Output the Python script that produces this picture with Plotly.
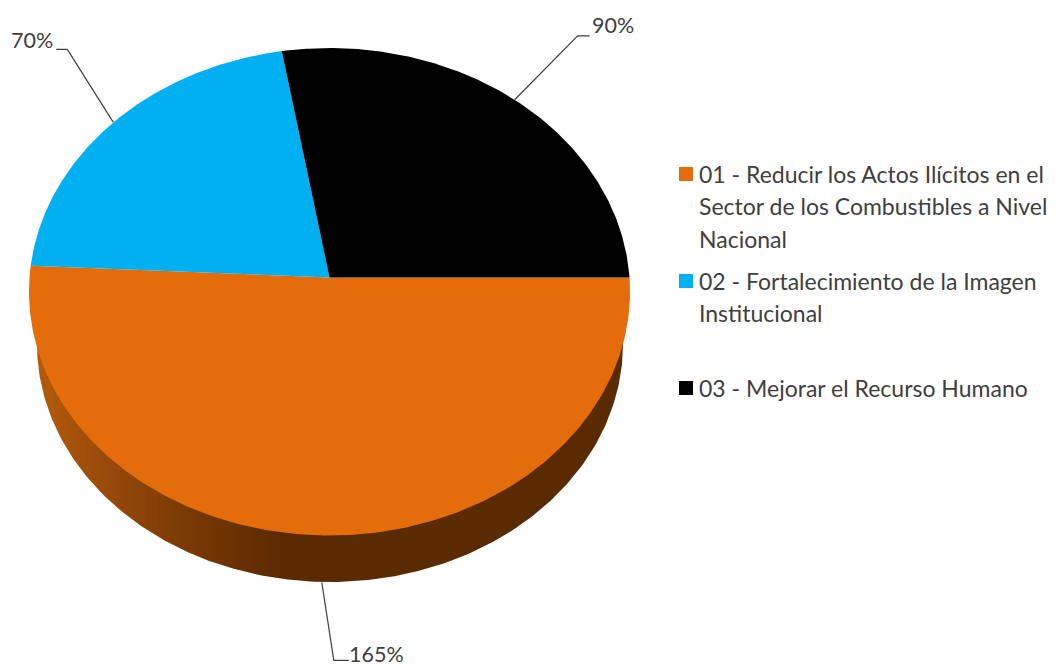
import numpy as np
import plotly.graph_objects as go

# --- data ---
categories = ["01 - Reducir los Actos Ilícitos en el<br>Sector de los Combustibles a Nivel<br>Nacional",
              "02 - Fortalecimiento de la Imagen<br>Institucional",
              "03 - Mejorar el Recurso Humano"]
values = [165, 70, 90]
percent_labels = ["165%", "70%", "90%"]

# --- style ---
colors = ["#E46C0A", "#00B0F0", "#000000"]
side_scale = [[0, "#B55C0B"], [0.3, "#96490A"], [0.6, "#7A3A05"], [1, "#5A2A00"]]
text_color = "#404040"
FONT = "Lato"
FS_LEG = 23
FS_LAB = 21.5

# --- layout geometry (pixels of the 1056x665 page) ---
W, H = 1056, 665
PAGE_MARGIN = 8                # default body margin of the written page
CX, CY = 329.5, 277.5          # pie apex
B, A, K = 300.0, 242.9, 0.0585 # perspective projection of the disc
SIDE_CX, SIDE_CY, SIDE_RX, SIDE_RY = 330.0, 344.0, 293.0, 238.0
DEPTH = 47
leader_elbows = [(12, 78), (-46, -73), (63, -64)]   # elbow offset from slice anchor
leader_tails = [15, -11, 12]
label_offsets = [(-2, -6), (-1, -9), (0, -11)]
label_anchor = ["left", "right", "left"]
legend_x_sw, legend_x_txt = 686, 697
legend_y_first = [174, 281, 388]
legend_line_h = 32.3


def project(theta):
    x, y = np.cos(theta), np.sin(theta)
    d = 1 + K * y
    return CX + B * x / d, CY - A * y / d


fig = go.Figure()

# side wall of the pie
t = np.linspace(0, np.pi, 241)
fig.add_trace(go.Scatter(
    x=SIDE_CX + SIDE_RX * np.cos(t), y=SIDE_CY + SIDE_RY * np.sin(t),
    mode="lines", line=dict(width=0), fill="toself",
    fillgradient=dict(type="horizontal", colorscale=side_scale, start=35, stop=285),
    hoverinfo="skip", showlegend=False))

# top face: slices run clockwise from 3 o'clock
total = sum(values)
angle = 0.0
mids = []
for i, (cat, v, col) in enumerate(zip(categories, values, colors)):
    span = 2 * np.pi * v / total
    th = np.linspace(-angle, -(angle + span), 240)
    px, py = project(th)
    fig.add_trace(go.Scatter(
        x=np.r_[CX, px, CX], y=np.r_[CY, py, CY],
        mode="lines", line=dict(width=0), fill="toself", fillcolor=col,
        name=cat.replace("<br>", " "), hoverinfo="name", showlegend=False))
    mids.append(-(angle + span / 2))
    angle += span

# leader lines and percentage labels
annotations = []
for i, m in enumerate(mids):
    ax, ay = project(m)
    if i == 0:
        ay += DEPTH
    ex, ey = ax + leader_elbows[i][0], ay + leader_elbows[i][1]
    tx = ex + leader_tails[i]
    fig.add_trace(go.Scatter(x=[ax, ex, tx], y=[ay, ey, ey], mode="lines",
                             line=dict(color="#404040", width=1.2),
                             hoverinfo="skip", showlegend=False))
    annotations.append(dict(x=tx + label_offsets[i][0], y=ey + label_offsets[i][1],
                            text=percent_labels[i], showarrow=False,
                            xanchor=label_anchor[i], yanchor="middle",
                            font=dict(family=FONT, size=FS_LAB, color=text_color)))

# legend swatches and text
fig.add_trace(go.Scatter(x=[legend_x_sw] * 3, y=legend_y_first, mode="markers",
                         marker=dict(symbol="square", size=14, color=colors, line=dict(width=0)),
                         hoverinfo="skip", showlegend=False))
for cat, y0 in zip(categories, legend_y_first):
    for j, line in enumerate(cat.split("<br>")):
        annotations.append(dict(x=legend_x_txt, y=y0 + j * legend_line_h, text=line,
                                showarrow=False, xanchor="left", yanchor="middle",
                                font=dict(family=FONT, size=FS_LEG, color=text_color)))

fig.update_layout(
    width=W - PAGE_MARGIN, height=H, margin=dict(l=0, r=0, t=0, b=0),
    paper_bgcolor="white", plot_bgcolor="white", showlegend=False,
    xaxis=dict(range=[PAGE_MARGIN, W], visible=False, fixedrange=True),
    yaxis=dict(range=[H + PAGE_MARGIN, PAGE_MARGIN], visible=False, fixedrange=True),
    annotations=annotations)

fig.write_html("out.html", config=dict(displayModeBar=False))
